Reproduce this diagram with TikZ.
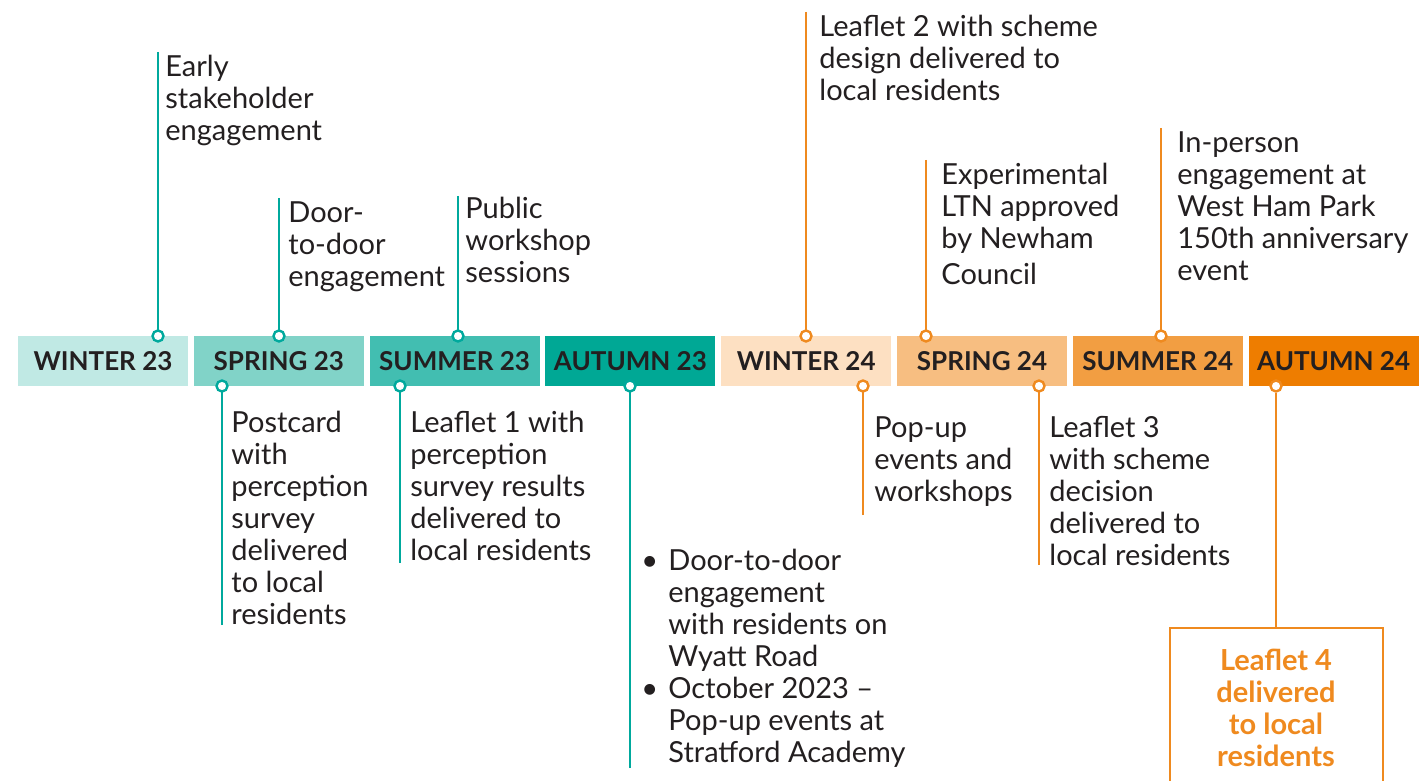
\documentclass[tikz,border=0pt]{standalone}
\usepackage{fontspec}
\setmainfont{Lato}
\definecolor{inktxt}{HTML}{231F20}
\definecolor{tealline}{HTML}{00A99D}
\definecolor{orangeline}{HTML}{EF8A1F}
\definecolor{wintertt}{HTML}{C0E9E4}
\definecolor{springtt}{HTML}{81D3C8}
\definecolor{summertt}{HTML}{42BEB1}
\definecolor{autumntt}{HTML}{00A895}
\definecolor{wintertf}{HTML}{FDE0C2}
\definecolor{springtf}{HTML}{F7BE81}
\definecolor{summertf}{HTML}{F29E42}
\definecolor{autumntf}{HTML}{EE7D00}
\begin{document}
\begin{tikzpicture}[x=0.5pt,y=-0.5pt,
	season/.style={minimum width=85pt,minimum height=25pt,inner sep=0,font=\fontsize{13}{15}\selectfont\bfseries,text=inktxt},
	dot/.style={circle,draw=#1,fill=white,line width=1.2pt,minimum size=5.5pt,inner sep=0},
	tline/.style={tealline,line width=1.2pt},
	oline/.style={orangeline,line width=1.2pt},
	evt/.style={align=left,inner sep=0,anchor=north west,yshift=-1.5pt,font=\fontsize{14.5}{16}\selectfont,text=inktxt}]
	\useasboundingbox (0,0) rectangle (1420,781);

	\node[season,fill=wintertt] (w23) at (103,361) {WINTER 23};
	\node[season,fill=springtt] (sp23) at (278.8,361) {SPRING 23};
	\node[season,fill=summertt] (su23) at (454.6,361) {SUMMER 23};
	\node[season,fill=autumntt] (au23) at (630.4,361) {AUTUMN 23};
	\node[season,fill=wintertf] (w24) at (806.2,361) {WINTER 24};
	\node[season,fill=springtf] (sp24) at (982,361) {SPRING 24};
	\node[season,fill=summertf] (su24) at (1157.8,361) {SUMMER 24};
	\node[season,fill=autumntf] (au24) at (1333.6,361) {AUTUMN 24};

	\coordinate (stakeTop) at (158,52);
	\coordinate (doorTop) at (279,198);
	\coordinate (workshopTop) at (458,196);
	\coordinate (leafTwoTop) at (806,12);
	\coordinate (ltnTop) at (926,160);
	\coordinate (parkTop) at (1161,128);

	\coordinate (postcardEnd) at (222,625);
	\coordinate (leafOneEnd) at (400,563);
	\coordinate (wyattEnd) at (630,768);
	\coordinate (popupEnd) at (863,515);
	\coordinate (leafThreeEnd) at (1039,565);

	\draw[tline] (stakeTop) -- (158,336) node[dot=tealline] (stakeDot) {};
	\draw[tline] (doorTop) -- (279,336) node[dot=tealline] (doorDot) {};
	\draw[tline] (workshopTop) -- (458,336) node[dot=tealline] (workshopDot) {};
	\draw[oline] (leafTwoTop) -- (806,336) node[dot=orangeline] (leafTwoDot) {};
	\draw[oline] (ltnTop) -- (926,336) node[dot=orangeline] (ltnDot) {};
	\draw[oline] (parkTop) -- (1161,336) node[dot=orangeline] (parkDot) {};

	\draw[tline] (postcardEnd) -- (222,386) node[dot=tealline] (postcardDot) {};
	\draw[tline] (leafOneEnd) -- (400,386) node[dot=tealline] (leafOneDot) {};
	\draw[tline] (wyattEnd) -- (630,386) node[dot=tealline] (wyattDot) {};
	\draw[oline] (popupEnd) -- (863,386) node[dot=orangeline] (popupDot) {};
	\draw[oline] (leafThreeEnd) -- (1039,386) node[dot=orangeline] (leafThreeDot) {};

	\node[evt] (stake) at (165,52) {Early\\stakeholder\\engagement};
	\node[evt] (door) at (288,198) {Door-\\to-door\\engagement};
	\node[evt] (workshop) at (465,194) {Public\\workshop\\sessions};
	\node[evt] (leafTwo) at (819,12) {Leaflet 2 with scheme\\design delivered to\\local residents};
	\node[evt] (ltn) at (941,160) {Experimental\\LTN approved\\by Newham\\[2pt]Council};
	\node[evt] (park) at (1177,128) {In-person\\engagement at\\West Ham Park\\150th anniversary\\event};

	\node[evt] (postcard) at (231,408) {Postcard\\with\\perception\\survey\\delivered\\to local\\residents};
	\node[evt] (leafOne) at (410,408) {Leaflet 1 with\\perception\\survey results\\delivered to\\local residents};
	\node[inner sep=0,anchor=north west,yshift=-1.5pt,font=\fontsize{14.5}{16}\selectfont,text=inktxt] (wyatt) at (641,546) {\parbox[t]{140pt}{\raggedright
		\hangindent=13.5pt\hangafter=1\makebox[13.5pt][l]{\textbullet}Door-to-door\newline engagement\newline with residents on\newline Wyatt Road\par
		\hangindent=13.5pt\hangafter=1\makebox[13.5pt][l]{\textbullet}October 2023 --\newline Pop-up events at\newline Stratford Academy}};
	\node[evt] (popup) at (874,413) {Pop-up\\events and\\workshops};
	\node[evt] (leafThree) at (1049,413) {Leaflet 3\\with scheme\\decision\\delivered to\\local residents};

	\draw[oline] (1170,795) |- (1383,628) -- (1383,795);
	\node[dot=orangeline] (leafFourDot) at (1276,386) {};
	\node[align=center,inner sep=0,font=\fontsize{14.5}{16}\selectfont\bfseries,text=orangeline] (leafFour) at (1276,708) {Leaflet 4\\delivered\\to local\\residents};
	\draw[oline] (leafFourDot) -- (1276,628);
\end{tikzpicture}
\end{document}
